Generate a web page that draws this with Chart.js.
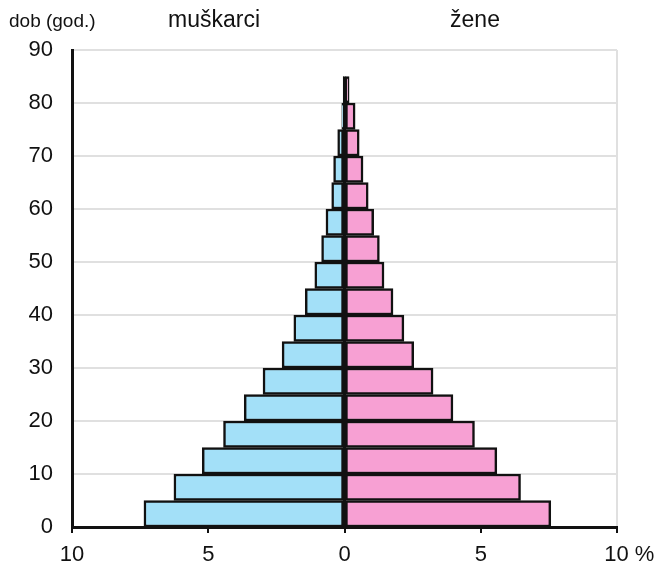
<!DOCTYPE html>
<html>
<head>
<meta charset="utf-8">
<script src="https://cdn.jsdelivr.net/npm/chart.js@4"></script>
<style>
html,body{margin:0;padding:0;background:#fff;}
#wrap{width:664px;height:576px;position:relative;}
</style>
</head>
<body>
<div id="wrap"><canvas id="c"></canvas></div>
<script>
// Age group start years (5-year groups)
const ageGroups = [0,5,10,15,20,25,30,35,40,45,50,55,60,65,70,75,80];
// Share of population (%)
const maleValues   = [7.36,6.26,5.22,4.44,3.68,2.99,2.29,1.86,1.44,1.09,0.84,0.68,0.47,0.40,0.25,0.10,0.05];
const femaleValues = [7.57,6.46,5.59,4.77,3.98,3.25,2.54,2.18,1.78,1.45,1.28,1.07,0.87,0.68,0.54,0.39,0.17];
const yTicks = [0,10,20,30,40,50,60,70,80,90];
const xTicks = [-10,-5,0,5,10];
const headerLeft = 'dob (god.)';
const headerMale = 'muškarci';
const headerFemale = 'žene';

const FONT = "'Liberation Sans', Arial, sans-serif";

const headerPlugin = {
  id: 'header',
  afterDatasetsDraw(chart) {
    // central zero line over the bars
    const ctx = chart.ctx;
    const xs = chart.scales.x, ys = chart.scales.y;
    const x0 = xs.getPixelForValue(0);
    const yTop = ys.getPixelForValue(ageGroups[ageGroups.length - 1] + 5);
    const yBot = ys.getPixelForValue(0);
    ctx.save();
    ctx.strokeStyle = '#111';
    ctx.lineWidth = 3;
    ctx.beginPath();
    ctx.moveTo(x0, yTop);
    ctx.lineTo(x0, yBot);
    ctx.stroke();
    ctx.restore();
  },
  afterDraw(chart) {
    const ctx = chart.ctx;
    ctx.save();
    ctx.fillStyle = '#111';
    ctx.textBaseline = 'alphabetic';
    ctx.textAlign = 'left';
    ctx.font = '19px ' + FONT;
    ctx.fillText(headerLeft, 9, 27);
    ctx.textAlign = 'center';
    ctx.font = '23px ' + FONT;
    ctx.fillText(headerMale, 214, 27);
    ctx.fillText(headerFemale, 475, 27);
    ctx.restore();
  }
};

new Chart(document.getElementById('c'), {
  type: 'bar',
  data: {
    datasets: [
      {
        label: headerMale,
        data: ageGroups.map((a, i) => ({ x: -maleValues[i], y: a + 2.5 })),
        backgroundColor: '#a3e0f8',
        borderColor: '#111',
        borderWidth: 2.5,
        borderSkipped: false
      },
      {
        label: headerFemale,
        data: ageGroups.map((a, i) => ({ x: femaleValues[i], y: a + 2.5 })),
        backgroundColor: '#f7a0d3',
        borderColor: '#111',
        borderWidth: 2.5,
        borderSkipped: false
      }
    ]
  },
  options: {
    indexAxis: 'y',
    responsive: true,
    maintainAspectRatio: false,
    animation: false,
    layout: { padding: { left: 0, right: 47, top: 50, bottom: 0 } },
    datasets: { bar: { barPercentage: 1, categoryPercentage: 1 } },
    plugins: {
      legend: { display: false },
      tooltip: { enabled: false },
      title: { display: false }
    },
    scales: {
      x: {
        type: 'linear',
        stacked: true,
        min: -10,
        max: 10,
        afterBuildTicks: (s) => { s.ticks = xTicks.map(v => ({ value: v })); },
        afterFit: (s) => { s.height = 49; },
        ticks: {
          color: '#111',
          font: { family: FONT, size: 22 },
          padding: 9,
          maxRotation: 0,
          autoSkip: false,
          callback: (v) => v === 10 ? '    10 %' : String(Math.abs(v))
        },
        grid: {
          color: (c) => (c.tick && c.tick.value === 10) ? '#e0e0e0' : 'rgba(0,0,0,0)',
          lineWidth: 2,
          drawTicks: true,
          tickColor: '#111',
          tickLength: 6,
          tickWidth: 2
        },
        border: { display: true, color: '#111', width: 3 }
      },
      y: {
        type: 'linear',
        stacked: true,
        offset: false,
        min: 0,
        max: 90,
        afterBuildTicks: (s) => { s.ticks = yTicks.map(v => ({ value: v })); },
        afterFit: (s) => { s.width = 72; },
        ticks: {
          color: '#111',
          font: { family: FONT, size: 22 },
          padding: 19,
          autoSkip: false
        },
        grid: {
          offset: false,
          color: '#e0e0e0',
          lineWidth: 2,
          drawTicks: false
        },
        border: { display: true, color: '#111', width: 3 }
      }
    }
  },
  plugins: [headerPlugin]
});
</script>
</body>
</html>
